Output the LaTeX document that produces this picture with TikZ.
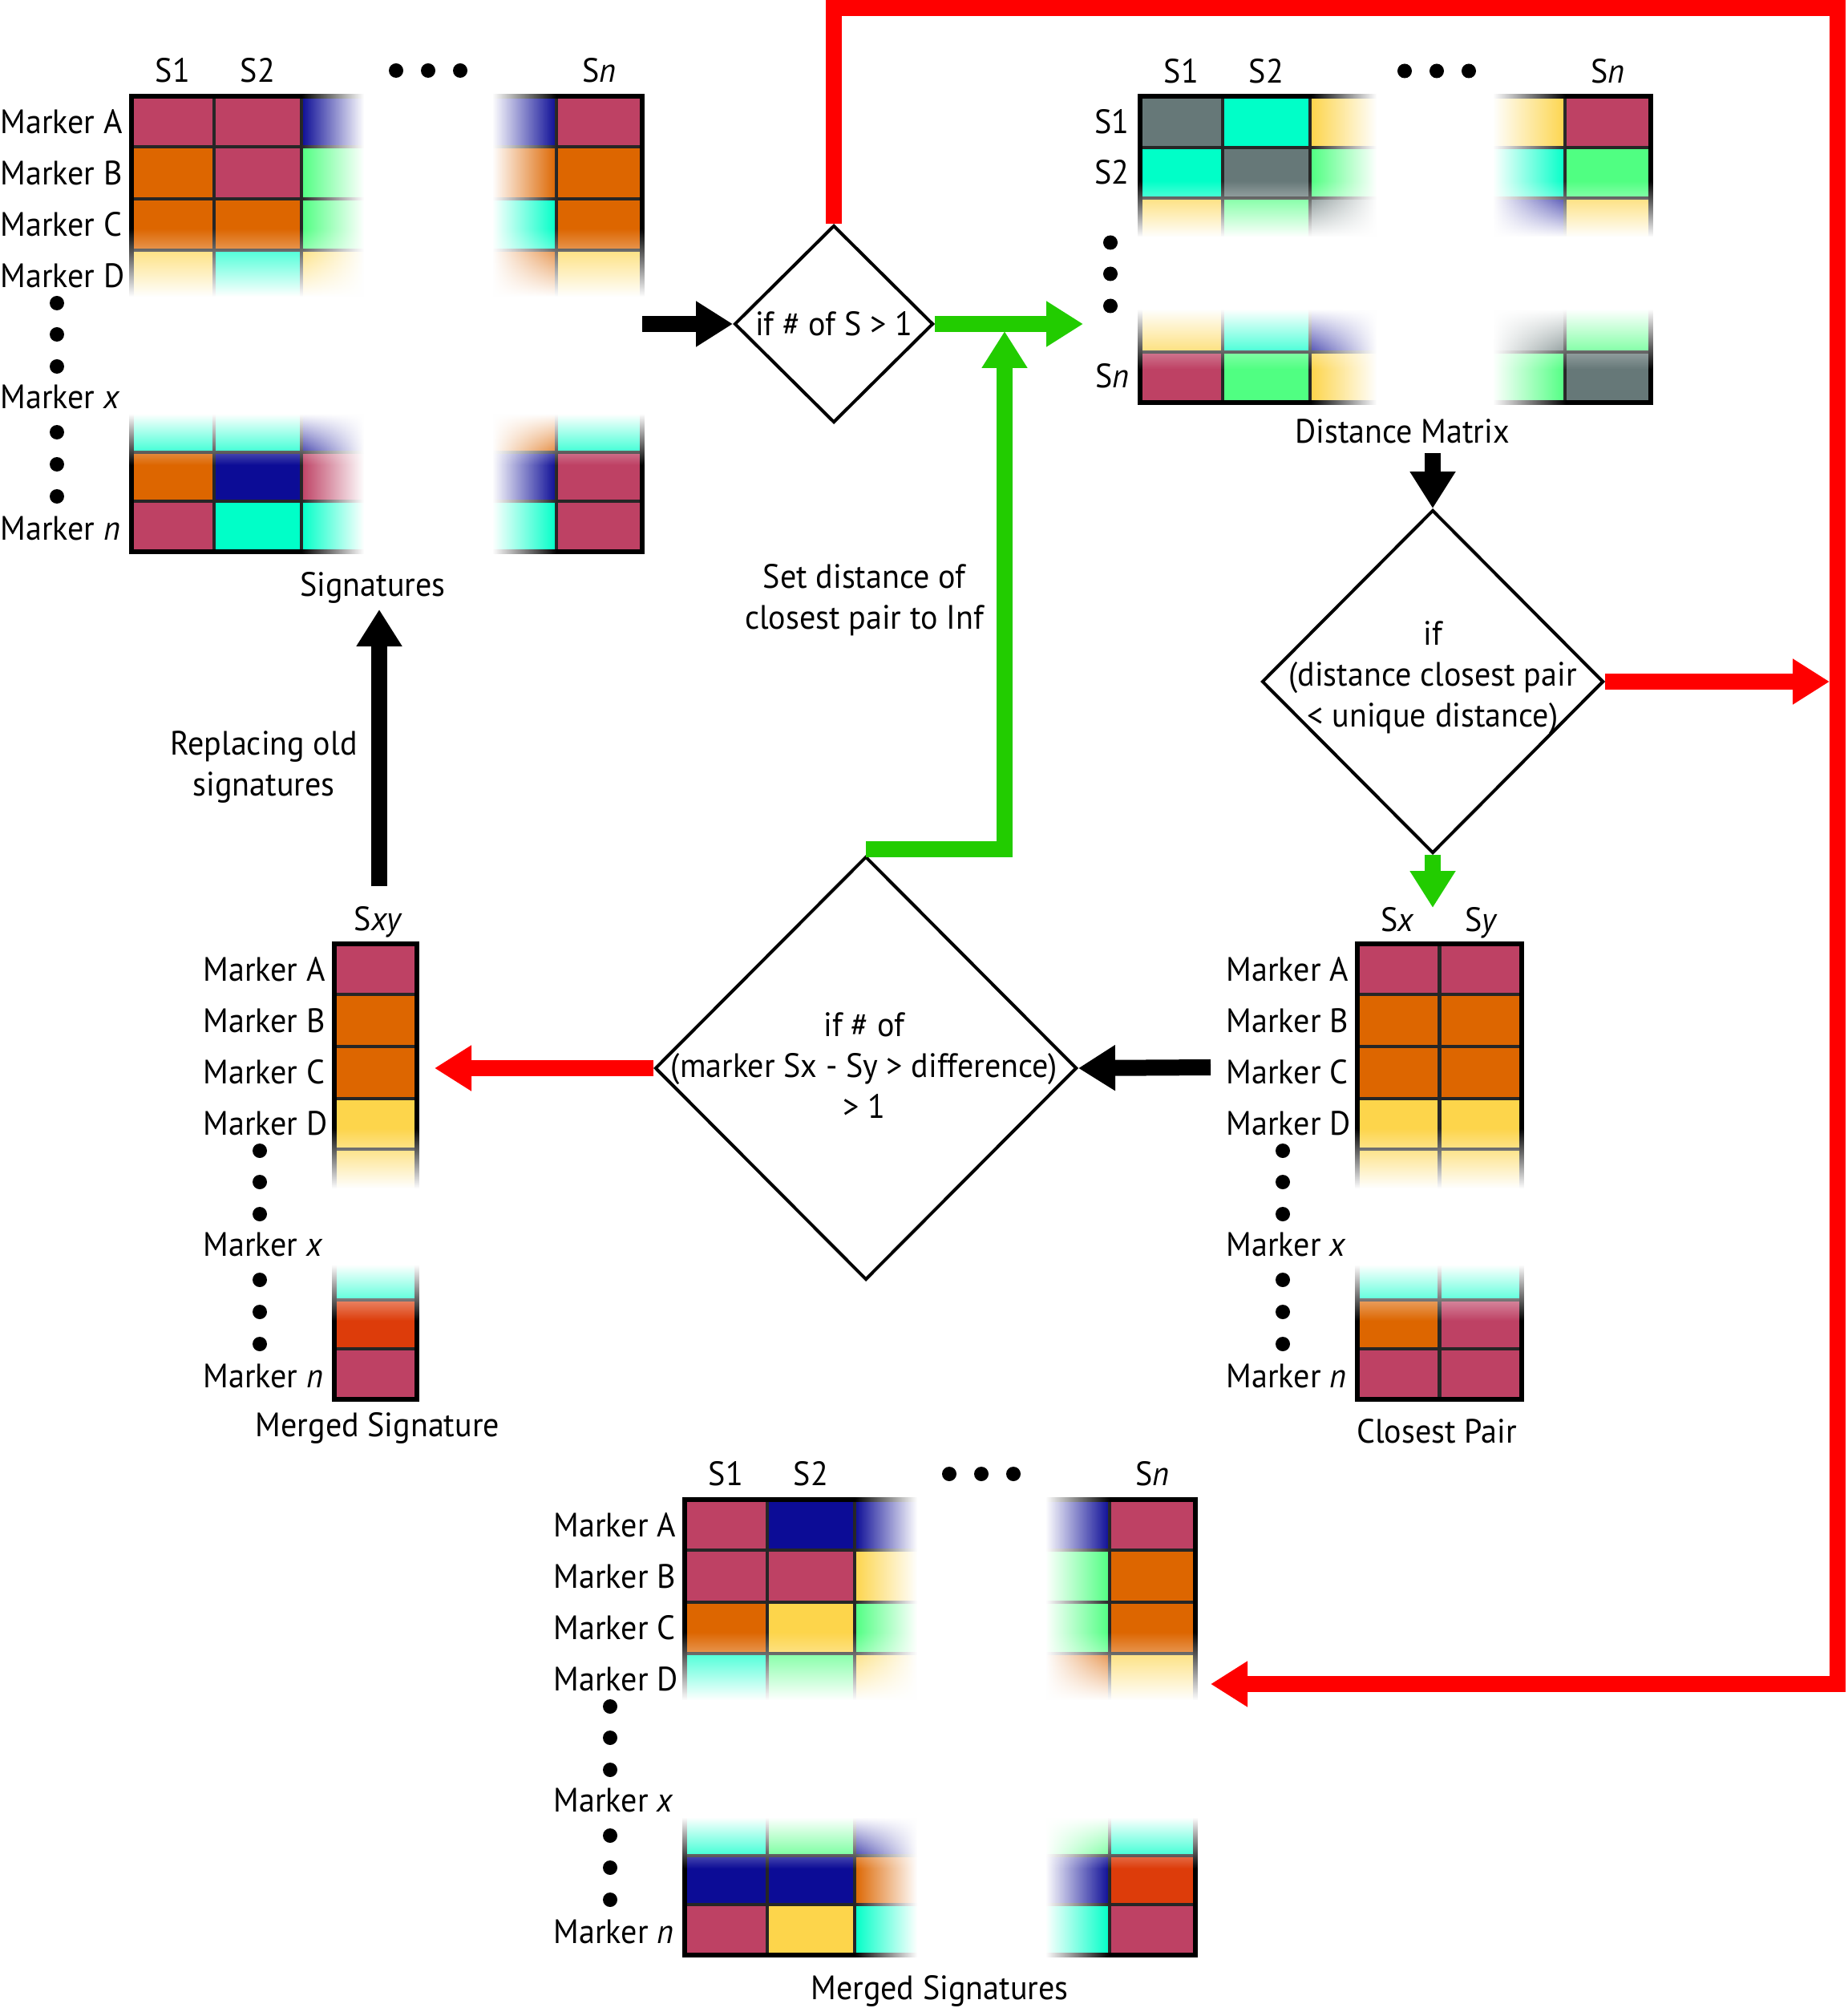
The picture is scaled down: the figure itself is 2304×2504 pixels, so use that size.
\documentclass[tikz,border=0pt]{standalone}
\usepackage{fontspec}
\setmainfont{PT Sans}[FakeStretch=0.95]
\usetikzlibrary{arrows.meta,shapes.geometric,fadings}

\definecolor{crim}{RGB}{190,65,100}
\definecolor{orng}{RGB}{221,102,0}
\definecolor{dblu}{RGB}{12,12,150}
\definecolor{yelo}{RGB}{253,213,75}
\definecolor{aqua}{RGB}{0,255,200}
\definecolor{mint}{RGB}{80,255,130}
\definecolor{gry}{RGB}{102,120,120}
\definecolor{redo}{RGB}{221,60,10}
\definecolor{flowred}{RGB}{255,0,0}
\definecolor{flowgreen}{RGB}{34,204,0}

\tikzfading[name=wipe east, left color=transparent!100, right color=transparent!0]
\tikzfading[name=wipe west, left color=transparent!0, right color=transparent!100]
\tikzfading[name=wipe south, top color=transparent!100, bottom color=transparent!0]
\tikzfading[name=wipe north, top color=transparent!0, bottom color=transparent!100]

\tikzset{
  flow/.style={line width=2mm, -{Triangle[length=4.6mm, width=5.4mm]}},
  blackflow/.style={flow, black},
  redflow/.style={flow, flowred},
  greenflow/.style={flow, flowgreen},
  decision/.style={diamond, draw, line width=0.4mm, inner sep=0pt},
  gridline/.style={line width=0.45mm, black!85},
  gridbox/.style={line width=0.6mm, black},
  lbl/.style={inner sep=0pt, text height=2.95mm, text depth=0pt},
  blurb/.style={align=center, inner sep=0pt},
}

% one row of a five column block
\newcommand{\bigrow}[7]{%
  \fill[#3] (0,#1) rectangle (103,#2);
  \fill[#4] (103,#1) rectangle (212,#2);
  \fill[#5] (212,#1) rectangle (315,#2);
  \fill[#6] (427,#1) rectangle (530,#2);
  \fill[#7] (530,#1) rectangle (637,#2);}
% one row of a two column block
\newcommand{\pairrow}[4]{%
  \fill[#3] (0,#1) rectangle (102.5,#2);
  \fill[#4] (102.5,#1) rectangle (205,#2);}
\newcommand{\biggrid}[2]{%
  \foreach \y in {#1} \draw[gridline] (0,\y) -- (637,\y);
  \foreach \x in {103,212,315,427,530} \draw[gridline] (\x,0) -- (\x,#2);
  \draw[gridbox] (0,0) rectangle (637,#2);}
% white washes over the hidden columns / rows
\newcommand{\colgap}[5]{%
  \fill[white, path fading=wipe east] (#1,-8) rectangle (#2,#5+8);
  \fill[white] (#2,-8) rectangle (#3,#5+8);
  \fill[white, path fading=wipe west] (#3,-8) rectangle (#4,#5+8);}
\newcommand{\rowgap}[5]{%
  \fill[white, path fading=wipe south] (-8,#1) rectangle (#5+8,#2);
  \fill[white] (-8,#2) rectangle (#5+8,#3);
  \fill[white, path fading=wipe north] (-8,#3) rectangle (#5+8,#4);}
\newcommand{\bigheads}[1]{%
  \node[lbl] (#1-h1) at (51.5,-32) {S1};
  \node[lbl] (#1-h2) at (157.5,-32) {S2};
  \node[lbl] (#1-hn) at (583.5,-32) {S\textit{n}};
  \foreach \x in {330,370,410} \fill (\x,-32) circle[radius=0.9mm];}
\newcommand{\markerlabels}[1]{%
  \foreach \mk/\y in {A/32,B/96,C/160,D/224}
    \node[lbl, anchor=west] (#1-\mk) at (-164,\y) {Marker \mk};
  \node[lbl, anchor=west] (#1-x) at (-164,375) {Marker \textit{x}};
  \node[lbl, anchor=west] (#1-n) at (-164,539) {Marker \textit{n}};
  \foreach \y in {258,297,337,419,459,499}
    \fill (-93,\y) circle[radius=0.9mm];}

\begin{document}
\begin{tikzpicture}[x=0.1mm, y=-0.1mm, font=\fontsize{12}{14.5}\selectfont, line join=miter]
  \useasboundingbox (0,0) rectangle (2304,2504);

  %%%%% signatures %%%%%
  \begin{scope}[shift={(164,120)}]
    \foreach \ya/\yb/\ca/\cb/\cc/\cd/\ce in {
        0/63/crim/crim/dblu/dblu/crim, 63/128/orng/crim/mint/orng/orng,
        128/192/orng/orng/mint/aqua/orng, 192/255/yelo/aqua/yelo/orng/yelo,
        380/444/aqua/aqua/dblu/orng/aqua, 444/505/orng/dblu/crim/dblu/crim,
        505/568/crim/aqua/aqua/aqua/crim}
      {\bigrow{\ya}{\yb}{\ca}{\cb}{\cc}{\cd}{\ce}}
    \biggrid{63,128,192,255,444,505}{568}
    \colgap{212}{290}{450}{530}{568}
    \rowgap{165}{250}{396}{460}{637}
    \bigheads{sig}
    \markerlabels{sig}
    \node[lbl] (siglabel) at (301,609) {Signatures};
  \end{scope}

  %%%%% distance matrix %%%%%
  \begin{scope}[shift={(1422,120.5)}]
    \foreach \ya/\yb/\ca/\cb/\cc/\cd/\ce in {
        0/63.5/gry/aqua/yelo/yelo/crim, 63.5/126.5/aqua/gry/mint/aqua/mint,
        126.5/190/yelo/mint/gry/dblu/yelo, 250/318.5/yelo/aqua/dblu/gry/mint,
        318.5/381.5/crim/mint/yelo/mint/gry}
      {\bigrow{\ya}{\yb}{\ca}{\cb}{\cc}{\cd}{\ce}}
    \biggrid{63.5,126.5,190,318.5}{381.5}
    \colgap{213}{295}{440}{531}{381.5}
    \rowgap{105}{175}{265}{340}{637}
    \bigheads{dm}
    \node[lbl, anchor=east] (dm-r1) at (-13,31) {S1};
    \node[lbl, anchor=east] (dm-r2) at (-13,94) {S2};
    \node[lbl, anchor=east] (dm-rn) at (-13,348.5) {S\textit{n}};
    \foreach \y in {182,221,261} \fill (-37,\y) circle[radius=0.9mm];
    \node[lbl] (dmlabel) at (327,417.5) {Distance Matrix};
  \end{scope}

  %%%%% merged signature Sxy %%%%%
  \begin{scope}[shift={(417,1177)}]
    \foreach \ya/\yb/\ca in {0/63/crim, 63/128/orng, 128/193/orng, 193/256/yelo,
        256/320/yelo, 380/444/aqua, 444/505/redo, 505/568/crim}
      {\fill[\ca] (0,\ya) rectangle (103,\yb);}
    \foreach \y in {63,128,193,256,320,444,505} \draw[gridline] (0,\y) -- (103,\y);
    \draw[gridbox] (0,0) rectangle (103,568);
    \rowgap{230}{305}{400}{470}{103}
    \node[lbl] (sxy-h) at (55,-31) {S\textit{xy}};
    \markerlabels{sxy}
    \node[lbl] (sxylabel) at (54,600) {Merged Signature};
  \end{scope}

  %%%%% closest pair %%%%%
  \begin{scope}[shift={(1693,1177)}]
    \foreach \ya/\yb/\ca/\cb in {0/63/crim/crim, 63/128/orng/orng, 128/193/orng/orng,
        193/256/yelo/yelo, 256/320/yelo/yelo, 380/444/aqua/aqua,
        444/505/orng/crim, 505/568/crim/crim}
      {\pairrow{\ya}{\yb}{\ca}{\cb}}
    \foreach \y in {63,128,193,256,320,444,505} \draw[gridline] (0,\y) -- (205,\y);
    \draw[gridline] (102.5,0) -- (102.5,568);
    \draw[gridbox] (0,0) rectangle (205,568);
    \rowgap{230}{305}{400}{470}{205}
    \node[lbl] (cp-hx) at (50,-30) {S\textit{x}};
    \node[lbl] (cp-hy) at (155,-30) {S\textit{y}};
    \markerlabels{cp}
    \node[lbl] (cplabel) at (99,608) {Closest Pair};
  \end{scope}

  %%%%% merged signatures %%%%%
  \begin{scope}[shift={(854,1870)}]
    \foreach \ya/\yb/\ca/\cb/\cc/\cd/\ce in {
        0/63/crim/dblu/dblu/dblu/crim, 63/128/crim/crim/yelo/mint/orng,
        128/192/orng/yelo/mint/mint/orng, 192/255/aqua/mint/yelo/orng/yelo,
        380/444/aqua/mint/dblu/mint/aqua, 444/505/dblu/dblu/orng/dblu/redo,
        505/568/crim/yelo/aqua/aqua/crim}
      {\bigrow{\ya}{\yb}{\ca}{\cb}{\cc}{\cd}{\ce}}
    \biggrid{63,128,192,255,444,505}{568}
    \colgap{212}{290}{450}{530}{568}
    \rowgap{165}{250}{396}{460}{637}
    \bigheads{ms}
    \markerlabels{ms}
    \node[lbl] (mslabel) at (318,609) {Merged Signatures};
  \end{scope}

  %%%%% decisions %%%%%
  \node[decision, minimum width=24.8mm, minimum height=24.6mm] (d1) at (1040,404) {};
  \node[blurb] (d1txt) at (1040,404) {if \# of S > 1};
  \node[decision, minimum width=42.6mm, minimum height=42.8mm] (d2) at (1787,850) {};
  \node[blurb] (d2txt) at (1787,845) {if\\(distance closest pair\\< unique distance)};
  \node[blurb] (d3txt) at (1078,1329) {if \# of\\(marker Sx - Sy > difference)\\> 1};
  \node[decision, minimum width=52.6mm, minimum height=52.8mm] (d3) at (1080,1332) {};

  \node[blurb] (inftxt) at (1078,748) {Set distance of\\closest pair to Inf};
  \node[blurb] (reptxt) at (329,957) {Replacing old\\signatures};

  %%%%% connectors %%%%%
  \coordinate (sig-e) at (801,404);
  \coordinate (sig-s) at (473,760);
  \coordinate (dm-w) at (1351,404);
  \coordinate (dm-s) at (1787,565);
  \coordinate (loop-ne) at (2292,10);
  \coordinate (loop-se) at (2292,2100);
  \coordinate (loop-e) at (2282,850);
  \coordinate (ms-e) at (1510,2100);
  \coordinate (cp-n) at (1787,1132);
  \coordinate (cp-w) at (1510,1331);
  \coordinate (sxy-e) at (542,1332);
  \coordinate (sxy-n) at (473,1105);
  \coordinate (grn-up) at (1253,413);

  \draw[blackflow] (sig-e) -- (d1.west);
  \draw[redflow] (d1.north) |- (loop-ne) -- (loop-se) -- (ms-e);
  \draw[greenflow] (d1.east) -- (dm-w);
  \draw[blackflow] (dm-s) -- (d2.north);
  \draw[redflow] (d2.east) -- (loop-e);
  \draw[greenflow] (d2.south) -- (cp-n);
  \draw[blackflow] (cp-w) -- (d3.east);
  \draw[redflow] (d3.west) -- (sxy-e);
  \draw[greenflow] ([yshift=0.7mm]d3.north) -| (grn-up);
  \draw[blackflow] (sxy-n) -- (sig-s);
\end{tikzpicture}
\end{document}
